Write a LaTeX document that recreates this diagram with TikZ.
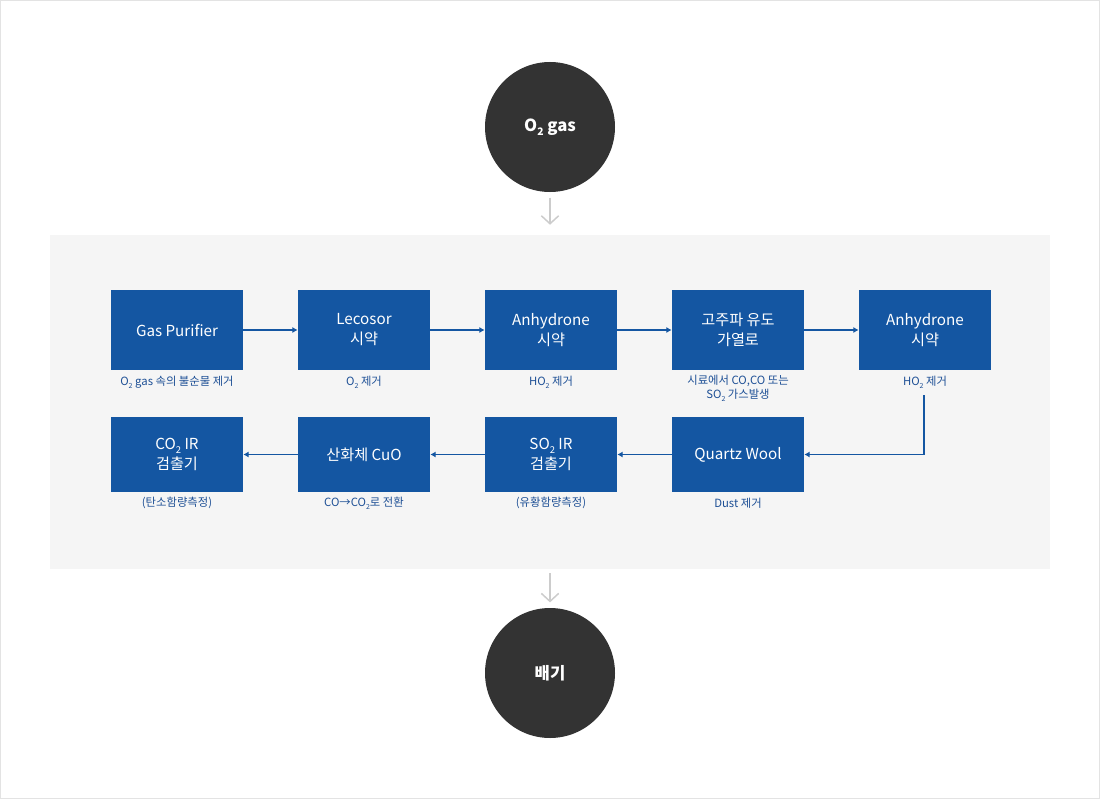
\documentclass[tikz,border=0pt]{standalone}
\usepackage{fontspec}
\setmainfont{Noto Sans CJK KR}
\usetikzlibrary{arrows.meta}

\definecolor{boxblue}{HTML}{1456A2}
\definecolor{noteblue}{HTML}{1D4F95}
\definecolor{termgray}{HTML}{333333}
\definecolor{panelgray}{HTML}{F5F5F5}
\definecolor{framegray}{HTML}{E3E3E3}
\definecolor{arrowgray}{HTML}{CCCCCC}

\newcommand{\lowsub}[1]{\raisebox{-0.45ex}{\scalebox{0.62}{#1}}}

\tikzset{
  proc/.style={fill=boxblue, text=white, minimum width=99pt, minimum height=60pt,
    align=center, inner sep=0pt, font=\fontsize{11.4}{15}\selectfont},
  proclow/.style={proc, minimum height=56.25pt},
  note/.style={text=noteblue, align=center, inner sep=0pt, font=\fontsize{8.5}{10.5}\selectfont},
  term/.style={circle, fill=termgray, text=white, minimum size=97.5pt, inner sep=0pt,
    font=\fontsize{12.5}{14}\selectfont\bfseries},
  flow/.style={draw=boxblue, line width=0.8pt, >={Latex[length=4pt,width=4.5pt]}},
  down/.style={draw=arrowgray, line width=1.1pt, -{Straight Barb[length=6pt,width=13pt]}}
}

\begin{document}
\begin{tikzpicture}[x=0.75pt,y=-0.75pt]
  \useasboundingbox (0,0) rectangle (1100,799);
  \draw[framegray, fill=white] (0.5,0.5) rectangle (1099.5,798.5);
  \node (panel) at (550,402) [fill=panelgray, minimum width=750pt, minimum height=250.5pt, inner sep=0pt] {};

  % source and exhaust
  \node (src) at (550,127) [term] {O\lowsub{2} gas};
  \node (exh) at (550,673) [term] {배기};
  \draw[down] ([yshift=-4pt]src.south) -- ([yshift=7.5pt]panel.north);
  \draw[down] ([yshift=-3pt]panel.south) -- ([yshift=4pt]exh.north);

  % first row
  \node (gp)  at (177,330) [proc] {Gas Purifier};
  \node (lc)  at (364,330) [proc] {Lecosor\\시약} edge [flow, <-] (gp);
  \node (an1) at (551,330) [proc] {Anhydrone\\시약} edge [flow, <-] (lc);
  \node (hf)  at (738,330) [proc] {고주파 유도\\가열로} edge [flow, <-] (an1);
  \node (an2) at (925,330) [proc] {Anhydrone\\시약} edge [flow, <-] (hf);

  \node (gpn)  at (177,382) [note] {O\lowsub{2} gas 속의 불순물 제거};
  \node (lcn)  at (364,382) [note] {O\lowsub{2} 제거};
  \node (an1n) at (551,382) [note] {HO\lowsub{2} 제거};
  \node (hfn)  at (738,388) [note] {시료에서 CO,CO 또는\\SO\lowsub{2} 가스발생};
  \node (an2n) at (925,382) [note] {HO\lowsub{2} 제거};

  % second row
  \node (qw)  at (738,454.5) [proclow] {Quartz Wool};
  \node (so2) at (551,454.5) [proclow] {SO\lowsub{2} IR\\검출기} edge [flow, <-] (qw);
  \node (cuo) at (364,454.5) [proclow] {산화체 CuO} edge [flow, <-] (so2);
  \node (co2) at (177,454.5) [proclow] {CO\lowsub{2} IR\\검출기} edge [flow, <-] (cuo);
  \draw[flow, ->] ([xshift=-0.75pt,yshift=-5pt]an2n.south) |- (qw.east);

  \node (qwn)  at (738,503) [note] {Dust 제거};
  \node (so2n) at (551,503) [note] {(유황함량측정)};
  \node (cuon) at (364,503) [note] {CO→CO\lowsub{2}로 전환};
  \node (co2n) at (177,503) [note] {(탄소함량측정)};
\end{tikzpicture}
\end{document}
